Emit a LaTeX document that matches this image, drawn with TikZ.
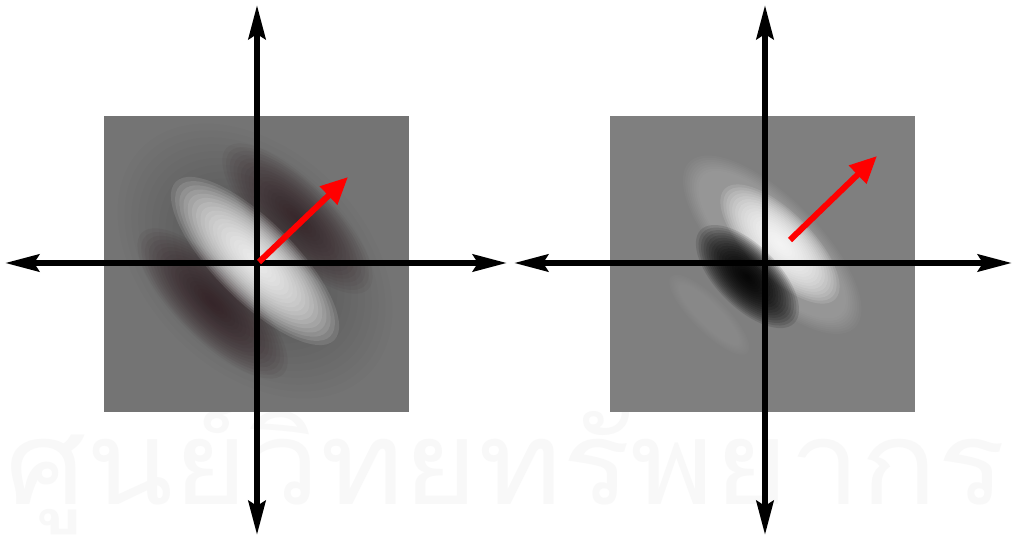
\documentclass[tikz,border=0pt]{standalone}
\usepackage{fontspec}
\newfontfamily\thaifont[Script=Thai]{Loma}
\usetikzlibrary{arrows.meta}
\definecolor{bgL}{RGB}{116,116,116}
\definecolor{bgR}{RGB}{127,127,127}
\definecolor{maroon}{RGB}{45,25,30}
\definecolor{wmark}{RGB}{248,248,248}
\begin{document}
\begin{tikzpicture}[x=1pt,y=1pt,
  axis/.style={line width=6pt,{Stealth[length=34pt,width=17pt,inset=5pt]}-{Stealth[length=34pt,width=17pt,inset=5pt]}},
  redarrow/.style={red, line width=6pt, -{Triangle[length=27pt,width=24pt]}},
  panel/.style={inner sep=0pt, minimum width=305pt, minimum height=296pt}
]
\useasboundingbox (0,0) rectangle (1013,538);
\fill[white] (0,0) rectangle (1013,538);
% faint watermark text
\node[anchor=south, text=wmark, inner sep=0pt] (wm) at (506,3)
  {\resizebox{1000pt}{102pt}{\thaifont ศูนย์วิทยทรัพยากร}};

% ---------- left panel ----------
\node[panel, fill=bgL, anchor=south west] (sqL) at (104,126) {};
\begin{scope}
  \clip (sqL.south west) rectangle (sqL.north east);
  \begin{scope}[shift={(255,277)}, rotate=-45]
    \foreach \k in {1,...,20}
      \fill[black, opacity=0.014] (0,0) ellipse ({160*\k/20} and {110*\k/20});
    \foreach \k in {1,...,20}
      \fill[maroon, opacity=0.06] (0,60) ellipse ({100*\k/20} and {36*\k/20});
    \foreach \k in {1,...,20}
      \fill[maroon, opacity=0.065] (0,-60) ellipse ({100*\k/20} and {36*\k/20});
    \foreach \k in {1,...,20}
      \fill[white, opacity=0.11] (0,0) ellipse ({112*\k/20} and {40*\k/20});
  \end{scope}
\end{scope}

% ---------- right panel ----------
\node[panel, fill=bgR, anchor=south west] (sqR) at (610,126) {};
\begin{scope}
  \clip (sqR.south west) rectangle (sqR.north east);
  \begin{scope}[shift={(763,277)}, rotate=-45]
    \foreach \k in {1,...,8}
      \fill[white, opacity=0.028] (-5,18) ellipse ({(95+22*\k/8)} and {(35+12*\k/8)});
    \foreach \k in {1,...,8}
      \fill[white, opacity=0.016] (0,-76) ellipse ({(40+14*\k/8)} and {(10+7*\k/8)});
    \foreach \k in {1,...,20}
      \fill[white, opacity=0.12] (0,24) ellipse ({78*\k/20} and {32*\k/20});
    \foreach \k in {1,...,20}
      \fill[black, opacity=0.12] (0,-22) ellipse ({66*\k/20} and {31*\k/20});
  \end{scope}
\end{scope}

% ---------- axes ----------
\coordinate (L-top) at (257,533);
\coordinate (L-bot) at (257,3);
\coordinate (L-left) at (5,275);
\coordinate (L-right) at (507,275);
\coordinate (R-top) at (765,533);
\coordinate (R-bot) at (765,3);
\coordinate (R-left) at (514,275);
\coordinate (R-right) at (1012,275);
\draw[axis] (L-left) -- (L-right);
\draw[axis] (L-bot) -- (L-top);
\draw[axis] (R-left) -- (R-right);
\draw[axis] (R-bot) -- (R-top);

% ---------- red arrows ----------
\coordinate (La) at (259,276);
\coordinate (Lb) at (348,361);
\coordinate (Ra) at (790,298);
\coordinate (Rb) at (877,382);
\draw[redarrow] (La) -- (Lb);
\draw[redarrow] (Ra) -- (Rb);
\end{tikzpicture}
\end{document}
